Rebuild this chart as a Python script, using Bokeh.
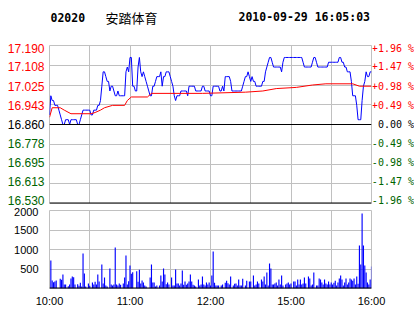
from bokeh.plotting import figure
from bokeh.models import ColumnDataSource, FixedTicker, Span, Range1d, Grid
from bokeh.layouts import column, row
from bokeh.core.properties import value
from bokeh.embed import file_html
from bokeh.resources import INLINE

# ---------------- data ----------------
stock_code = "02020"
stock_name = "安踏体育"
timestamp = "2010-09-29 16:05:03"

prev_close = 16.860
price_ticks = [16.530, 16.613, 16.695, 16.778, 16.860, 16.943, 17.025, 17.108, 17.190]
price_tick_labels = ["16.530", "16.613", "16.695", "16.778", "16.860",
                     "16.943", "17.025", "17.108", "17.190"]
pct_labels = ["-1.96 %", "-1.47 %", "-0.98 %", "-0.49 %", "0.00 %",
              "+0.49 %", "+0.98 %", "+1.47 %", "+1.96 %"]
time_ticks = [0, 60, 120, 180, 240]
time_labels = ["10:00", "11:00", "12:00", "15:00", "16:00"]
vol_ticks = [500, 1000, 1500, 2000]

# one value per trading minute (10:00-12:30, 14:30-16:00)
price = [
    16.90, 16.98, 16.96, 16.96, 16.94, 16.94, 16.94, 16.92, 16.90, 16.88,
    16.86, 16.86, 16.88, 16.88, 16.88, 16.86, 16.88, 16.88, 16.88, 16.88,
    16.88, 16.86, 16.86, 16.88, 16.90, 16.92, 16.92, 16.92, 16.92, 16.92,
    16.92, 16.90, 16.90, 16.92, 16.92, 16.92, 16.94, 16.94, 16.96, 17.02,
    17.08, 17.08, 17.06, 17.04, 17.04, 17.00, 17.02, 17.02, 17.00, 16.98,
    16.98, 17.00, 16.98, 16.98, 16.98, 16.98, 16.98, 17.08, 17.10, 17.08,
    17.14, 17.14, 17.02, 17.02, 17.00, 17.00, 17.10, 17.14, 17.08, 17.06,
    17.08, 17.06, 17.04, 17.02, 17.00, 16.98, 16.98, 17.02, 17.02, 17.04,
    17.06, 17.06, 17.06, 17.08, 17.02, 17.06, 17.06, 17.08, 17.08, 17.08,
    17.06, 17.04, 17.02, 16.98, 16.96, 16.98, 16.98, 16.98, 17.00, 17.00,
    17.00, 17.00, 17.00, 16.98, 17.02, 17.02, 17.02, 17.02, 17.02, 17.00,
    17.00, 17.00, 17.00, 17.00, 17.02, 17.02, 17.00, 17.00, 17.00, 17.00,
    16.98, 16.98, 17.02, 17.02, 17.02, 17.02, 17.02, 17.00, 17.00, 17.02,
    17.00, 17.06, 17.06, 17.06, 17.06, 17.04, 17.00, 17.00, 17.00, 17.00,
    17.00, 17.00, 17.00, 17.00, 17.02, 17.04, 17.06, 17.06, 17.08, 17.06,
    17.04, 17.06, 17.04, 17.04, 17.02, 17.02, 17.02, 17.02, 17.02, 17.04,
    17.04, 17.08, 17.10, 17.12, 17.14, 17.14, 17.12, 17.10, 17.10, 17.10,
    17.10, 17.10, 17.10, 17.08, 17.12, 17.14, 17.14, 17.14, 17.14, 17.14,
    17.14, 17.14, 17.14, 17.14, 17.14, 17.14, 17.14, 17.14, 17.14, 17.12,
    17.10, 17.10, 17.10, 17.10, 17.10, 17.10, 17.12, 17.14, 17.14, 17.12,
    17.10, 17.10, 17.10, 17.10, 17.10, 17.10, 17.10, 17.10, 17.12, 17.12,
    17.12, 17.12, 17.12, 17.12, 17.12, 17.12, 17.14, 17.14, 17.12, 17.12,
    17.10, 17.10, 17.08, 17.08, 17.08, 17.04, 16.98, 16.98, 16.98, 16.94,
    16.88, 16.88, 16.88, 16.96, 17.02, 17.04, 17.08, 17.06, 17.06, 17.08,
    17.08,
]

avg_minutes = [0, 2, 8, 11, 16, 31, 34, 38, 41, 47, 56, 58, 61, 73, 76,
               114, 146, 159, 169, 184, 196, 206, 226, 231, 240]
avg_price = [16.89, 16.93, 16.93, 16.92, 16.905, 16.905, 16.91, 16.92, 16.93,
             16.94, 16.94, 16.96, 16.975, 16.975, 16.99, 16.99, 16.995, 17.00,
             17.01, 17.015, 17.025, 17.03, 17.03, 17.02, 17.02]

volume = [
    0, 718, 205, 162, 180, 205, 0, 0, 248, 222,
    359, 103, 103, 0, 60, 103, 256, 308, 290, 103,
    0, 111, 68, 145, 51, 898, 385, 51, 0, 128,
    68, 0, 154, 103, 171, 103, 359, 180, 0, 616,
    128, 282, 77, 51, 0, 513, 103, 77, 103, 1052,
    103, 77, 128, 94, 0, 128, 282, 846, 103, 188,
    590, 376, 419, 0, 0, 445, 171, 479, 128, 205,
    154, 77, 51, 0, 0, 282, 616, 154, 154, 51,
    77, 0, 77, 333, 180, 513, 359, 111, 154, 103,
    0, 282, 77, 77, 487, 128, 128, 77, 128, 462,
    94, 180, 94, 128, 180, 359, 180, 94, 77, 51,
    0, 231, 77, 103, 308, 103, 77, 154, 103, 154,
    77, 333, 949, 145, 77, 77, 77, 0, 77, 103,
    0, 145, 197, 137, 103, 308, 0, 77, 120, 128,
    77, 231, 77, 77, 248, 0, 77, 197, 0, 180,
    180, 0, 333, 77, 103, 180, 128, 0, 231, 180,
    308, 103, 410, 77, 641, 513, 103, 103, 128, 154,
    77, 231, 103, 333, 77, 0, 103, 128, 154, 103,
    128, 0, 180, 180, 77, 231, 103, 231, 103, 128,
    282, 128, 0, 308, 256, 77, 103, 410, 0, 77,
    77, 256, 231, 154, 103, 231, 128, 103, 180, 103,
    154, 103, 145, 197, 77, 154, 256, 333, 231, 77,
    154, 256, 103, 154, 256, 231, 197, 256, 103, 308,
    120, 1103, 616, 1924, 1103, 590, 410, 154, 103, 231,
    564,
]

# ---------------- style / layout ----------------
GRID = "#c0c0c0"
RED = "#ff0000"
GREEN = "#006400"
BLUE = "#0000ff"

W = 414
LEFT_W, RIGHT_W = 48, 42          # label strips beside the price panel
FRAME_W = 322                      # data frame width (x 49..371)
TITLE_H = 36
P_TOP, P_FRAME_H, P_BOTTOM = 9, 158, 4
MID_H = P_TOP + P_FRAME_H + P_BOTTOM
V_TOP, V_FRAME_H, V_BOTTOM = 3, 78, 26

x_start, x_end = 0, 240
grid_minutes = list(range(x_start, x_end + 1, 30))
p_lo, p_hi = price_ticks[0], price_ticks[-1]
u = (p_hi - p_lo) / P_FRAME_H      # price units per pixel


def tick_color(t):
    if abs(t - prev_close) < 1e-9:
        return "black"
    return RED if t > prev_close else GREEN


def bare(fig):
    fig.outline_line_color = None
    fig.background_fill_color = "white"
    fig.border_fill_color = "white"
    if "frame_align" in fig.properties():
        fig.frame_align = False
    return fig


# ---------------- title strip ----------------
t = bare(figure(width=W, height=TITLE_H, x_range=Range1d(0, W), y_range=Range1d(TITLE_H, 0),
                x_axis_type=None, y_axis_type=None, output_backend="svg",
                toolbar_location=None, min_border=0))
mono_bold = dict(text_font=value("DejaVu Sans Mono"), text_font_style=value("bold"),
                 text_font_size=value("11.5px"), text_color="black",
                 text_baseline=value("middle"), text_align=value("left"))
t.text(x=[50], y=[16.5], text=[stock_code], **mono_bold)
t.text(x=[238], y=[16.5], text=[timestamp], **mono_bold)
t.text(x=[105], y=[16.5], text=[stock_name], text_font=value("Noto Sans CJK SC"),
       text_font_size=value("13px"), text_color="black",
       text_baseline=value("middle"), text_align=value("left"))

# ---------------- price panel ----------------
p = figure(width=FRAME_W + 2, height=MID_H,
           x_range=Range1d(x_start, x_end), y_range=Range1d(p_lo, p_hi),
           x_axis_type=None, y_axis_type=None,
           output_backend="svg", toolbar_location=None,
           min_border_left=1, min_border_right=1,
           min_border_top=P_TOP, min_border_bottom=P_BOTTOM)
p.outline_line_color = GRID
p.background_fill_color = "white"
p.border_fill_color = "white"
p.add_layout(Grid(dimension=0, ticker=FixedTicker(ticks=grid_minutes), grid_line_color=GRID))
p.add_layout(Grid(dimension=1, ticker=FixedTicker(ticks=price_ticks), grid_line_color=GRID))
p.add_layout(Span(location=prev_close, dimension="width", line_color="black", line_width=1))
p.add_layout(Span(location=p_lo, dimension="width", line_color="black", line_width=2))

p.line(list(range(len(price))), price, line_color=BLUE, line_width=1)
p.line(avg_minutes, avg_price, line_color=RED, line_width=1)

# tick labels beside the price panel (same vertical scale as the panel)
n = len(price_ticks)
shift_px = [2.5 - 0.69 * (n - 1 - i) for i in range(n)]       # labels sit slightly inward
lab_src = ColumnDataSource(dict(
    y=[tk - d * u for tk, d in zip(price_ticks, shift_px)],
    text=price_tick_labels, pct=pct_labels,
    color=[tick_color(tk) for tk in price_ticks]))
strip_range = Range1d(p_lo - P_BOTTOM * u, p_hi + P_TOP * u)

pl = bare(figure(width=LEFT_W, height=MID_H, x_range=Range1d(0, LEFT_W), y_range=strip_range,
                 x_axis_type=None, y_axis_type=None, output_backend="svg",
                 toolbar_location=None, min_border=0))
pl.text(x=44, y="y", text="text", source=lab_src, text_color="color",
        text_font=value("Liberation Sans"), text_font_size=value("12px"),
        text_align=value("right"), text_baseline=value("middle"))

pr = bare(figure(width=RIGHT_W, height=MID_H, x_range=Range1d(0, RIGHT_W), y_range=strip_range,
                 x_axis_type=None, y_axis_type=None, output_backend="svg",
                 toolbar_location=None, min_border=0))
pr.text(x=RIGHT_W - 0.5, y="y", text="pct", source=lab_src, text_color="color",
        text_font=value("DejaVu Sans Mono"), text_font_size=value("10px"),
        text_align=value("right"), text_baseline=value("middle"))

# ---------------- volume panel ----------------
v = figure(width=W, height=V_TOP + V_FRAME_H + V_BOTTOM,
           x_range=Range1d(x_start, x_end), y_range=Range1d(0, vol_ticks[-1]),
           output_backend="svg", toolbar_location=None,
           min_border_left=LEFT_W + 1, min_border_right=RIGHT_W + 1,
           min_border_top=V_TOP, min_border_bottom=V_BOTTOM)
v.outline_line_color = GRID
v.background_fill_color = "white"
v.border_fill_color = "white"
v.vbar(x=list(range(len(volume))), top=volume, width=0.85,
       fill_color=BLUE, line_color=None)
v.add_layout(Span(location=0, dimension="width", line_color="black", line_width=2))

v.xaxis.ticker = FixedTicker(ticks=time_ticks)
v.xaxis.major_label_overrides = {tk: s for tk, s in zip(time_ticks, time_labels)}
v.yaxis.ticker = FixedTicker(ticks=vol_ticks)
v.xgrid.ticker = FixedTicker(ticks=grid_minutes)
v.ygrid.ticker = FixedTicker(ticks=vol_ticks)
v.xgrid.grid_line_color = GRID
v.ygrid.grid_line_color = GRID
for ax in list(v.xaxis) + list(v.yaxis):
    ax.axis_line_color = None
    ax.major_tick_line_color = None
    ax.minor_tick_line_color = None
    ax.major_label_text_font = "Liberation Sans"
    ax.major_label_text_font_size = "11px"
    ax.major_label_text_color = "black"
v.xaxis.major_label_standoff = 0
v.yaxis.major_label_standoff = 5

layout = column(t, row(pl, p, pr, spacing=0), v, spacing=0)
open("out.html", "w").write(file_html(layout, INLINE))
